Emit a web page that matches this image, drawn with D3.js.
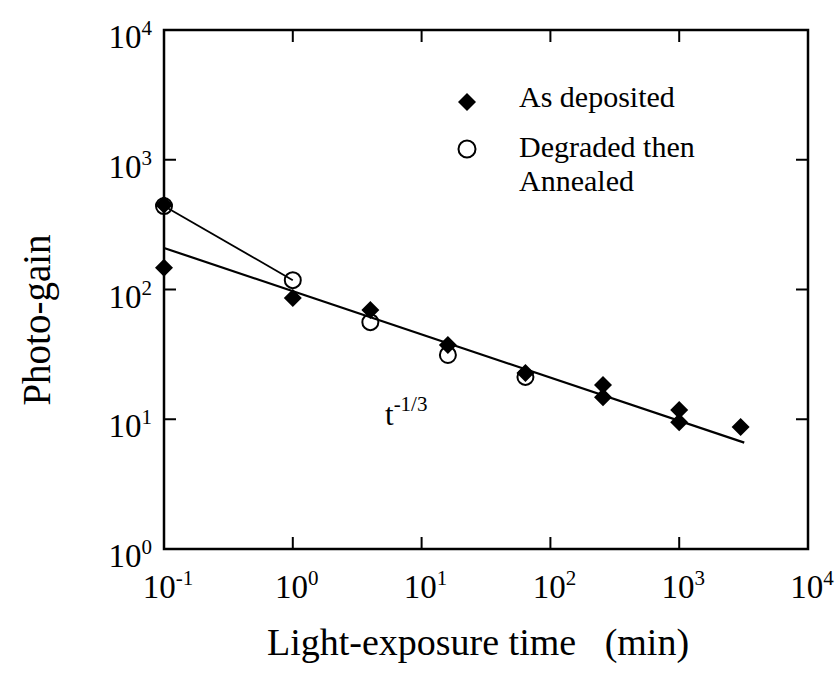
<!DOCTYPE html>
<html><head><meta charset="utf-8">
<script src="https://cdn.jsdelivr.net/npm/d3@7"></script>
<style>body{margin:0;background:#fff}svg{display:block}</style>
</head><body><svg id="c" width="840" height="673" font-family="'Liberation Serif', 'Times New Roman', serif"></svg>
<script>
// Data
const xTickVals = [0.1, 1, 10, 100, 1000, 10000];
const xTickExp = ["-1", "0", "1", "2", "3", "4"];
const yTickVals = [1, 10, 100, 1000, 10000];
const yTickExp = ["0", "1", "2", "3", "4"];
const asDepX = [0.1, 0.1, 1, 4, 16, 64, 256, 256, 1000, 1000, 3000];
const asDepY = [450, 147, 86, 69.5, 37.3, 22.7, 18.4, 14.8, 11.8, 9.5, 8.7];
const annX = [0.1, 1, 4, 16, 64];
const annY = [440, 118, 56, 31.3, 21.2];
const fitX = [0.1, 3200];
const fitY = [209, 6.6];
const legendLabels = ["As deposited", "Degraded then", "Annealed"];

const FONT = "'Liberation Serif', 'Times New Roman', serif";
const svg = d3.select("#c");
const L = 164, R = 808, T = 30, B = 549;
const x = d3.scaleLog().domain([0.1, 10000]).range([L, R]);
const y = d3.scaleLog().domain([1, 10000]).range([B, T]);

// ticks (inward, all sides)
const tl = 12;
const ax = svg.append("g").attr("stroke", "#000").attr("stroke-width", 2);
xTickVals.forEach(v => {
  ax.append("line").attr("x1", x(v)).attr("x2", x(v)).attr("y1", B).attr("y2", B - tl);
  ax.append("line").attr("x1", x(v)).attr("x2", x(v)).attr("y1", T).attr("y2", T + tl);
});
yTickVals.forEach(v => {
  ax.append("line").attr("y1", y(v)).attr("y2", y(v)).attr("x1", L).attr("x2", L + tl);
  ax.append("line").attr("y1", y(v)).attr("y2", y(v)).attr("x1", R).attr("x2", R - tl);
});
svg.append("rect").attr("x", L).attr("y", T).attr("width", R - L).attr("height", B - T)
  .attr("fill", "none").attr("stroke", "#000").attr("stroke-width", 2.5);

// tick labels
xTickVals.forEach((v, i) => {
  const t = svg.append("text").attr("font-family", FONT).attr("x", x(v) + 4).attr("y", 598).attr("text-anchor", "middle").attr("font-size", 33);
  t.append("tspan").text("10");
  t.append("tspan").attr("font-size", 21).attr("dy", -13).text(xTickExp[i]);
});
yTickVals.forEach((v, i) => {
  const t = svg.append("text").attr("font-family", FONT).attr("x", 152).attr("y", y(v) + 18).attr("text-anchor", "end").attr("font-size", 33);
  t.append("tspan").text("10");
  t.append("tspan").attr("font-size", 21).attr("dy", -13).text(yTickExp[i]);
});

// axis titles
svg.append("text").attr("font-family", FONT).attr("x", 478).attr("y", 655).attr("text-anchor", "middle").attr("font-size", 38)
  .attr("xml:space", "preserve").text("Light-exposure time   (min)");
svg.append("text").attr("font-family", FONT).attr("transform", "translate(50,320) rotate(-90)").attr("text-anchor", "middle")
  .attr("font-size", 39).text("Photo-gain");

// lines
const line = d3.line().x(d => x(d[0])).y(d => y(d[1]));
svg.append("path").attr("d", line(fitX.map((v, i) => [v, fitY[i]])))
  .attr("fill", "none").attr("stroke", "#000").attr("stroke-width", 2.2);
svg.append("path").attr("d", line(annX.slice(0, 2).map((v, i) => [v, annY[i]])))
  .attr("fill", "none").attr("stroke", "#000").attr("stroke-width", 1.8);

// markers
const diamond = (cx, cy, r) => `M${cx},${cy - r}L${cx + r},${cy}L${cx},${cy + r}L${cx - r},${cy}Z`;
svg.append("g").selectAll("path").data(asDepX.map((v, i) => [v, asDepY[i]])).join("path")
  .attr("d", d => diamond(x(d[0]), y(d[1]), 9)).attr("fill", "#000");
svg.append("g").selectAll("circle").data(annX.map((v, i) => [v, annY[i]])).join("circle")
  .attr("cx", d => x(d[0])).attr("cy", d => y(d[1])).attr("r", 8)
  .attr("fill", "none").attr("stroke", "#000").attr("stroke-width", 2);

// t^-1/3 label
const tt = svg.append("text").attr("font-family", FONT).attr("x", 385).attr("y", 425).attr("font-size", 31);
tt.append("tspan").text("t");
tt.append("tspan").attr("font-size", 21).attr("dy", -14).text("-1/3");

// legend
svg.append("path").attr("d", diamond(467, 102, 9)).attr("fill", "#000");
svg.append("circle").attr("cx", 467).attr("cy", 149).attr("r", 8.5).attr("fill", "none").attr("stroke", "#000").attr("stroke-width", 2);
const lgT = [[107, 0], [157, 1], [191, 2]];
lgT.forEach(([yy, i]) => svg.append("text").attr("font-family", FONT).attr("font-size", 30)
  .attr("x", 519).attr("y", yy).text(legendLabels[i]));
</script></body></html>
